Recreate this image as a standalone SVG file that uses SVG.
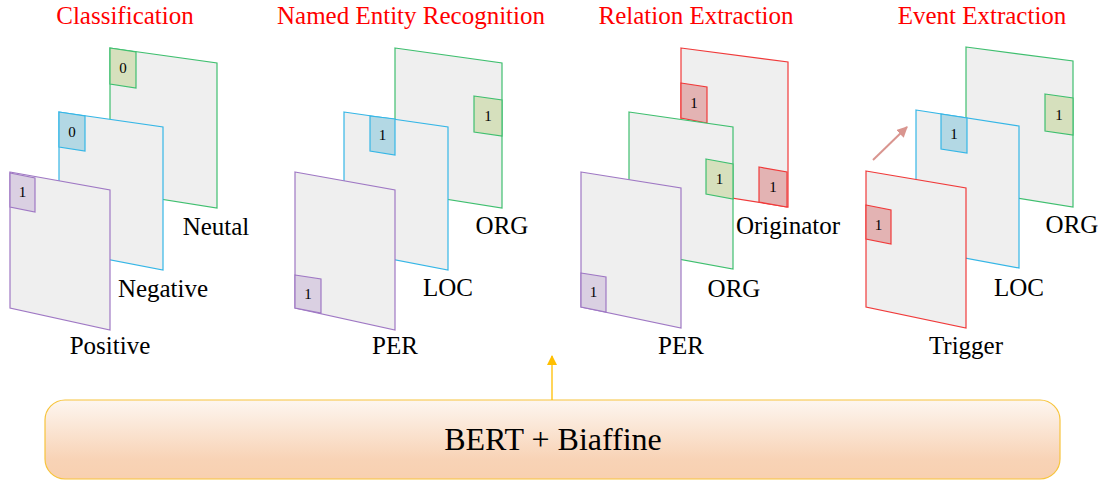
<svg xmlns="http://www.w3.org/2000/svg" width="1105" height="480" viewBox="0 0 1105 480">
<defs>
<linearGradient id="barg" x1="0" y1="0" x2="0" y2="1">
<stop offset="0" stop-color="#fdf6f0"/>
<stop offset="0.75" stop-color="#f8d3b6"/>
<stop offset="1" stop-color="#f8d0b0"/>
</linearGradient>
<marker id="ah-y" viewBox="0 0 10 10" refX="9" refY="5" markerWidth="10" markerHeight="10" markerUnits="userSpaceOnUse" orient="auto">
<path d="M0,0 L10,5 L0,10 Z" fill="#ffbf00"/>
</marker>
<marker id="ah-p" viewBox="0 0 10 10" refX="9" refY="5" markerWidth="11" markerHeight="11" markerUnits="userSpaceOnUse" orient="auto">
<path d="M0,0 L10,5 L0,10 Z" fill="#d9958f"/>
</marker>
</defs>
<style>
.pan{fill:#efefef;stroke-width:1.2}
.g{stroke:#3fbf6f}.b{stroke:#35b6e6}.p{stroke:#9f78c4}.r{stroke:#f03a3a}
.cg{fill:#d6e0bd;stroke:#3fbf6f;stroke-width:1.2}
.cb{fill:#b3d8e4;stroke:#35b6e6;stroke-width:1.2}
.cp{fill:#dad0e2;stroke:#9f78c4;stroke-width:1.2}
.cr{fill:#e3b3b3;stroke:#f03a3a;stroke-width:1.2}
text{font-family:"Liberation Serif","Times New Roman","DejaVu Serif",serif}
.d{font-size:15px;text-anchor:middle;fill:#000}
.lbl{font-size:25px;text-anchor:middle;fill:#000}
.ttl{font-size:25px;text-anchor:middle;fill:#ff0000}
.big{font-size:32px;text-anchor:middle;fill:#000}
</style>

<g id="titles">
<text class="ttl" x="125" y="24">Classification</text>
<text class="ttl" x="411" y="24">Named Entity Recognition</text>
<text class="ttl" x="696" y="24">Relation Extraction</text>
<text class="ttl" x="982" y="24">Event Extraction</text>
</g>

<g id="cls-neutal">
<polygon class="pan g" points="110,48 217,63 217,208 110,191"/>
<polygon class="cg" points="110,48 136,52 136,88 110,84"/>
<text class="d" x="123" y="73">0</text>
<text class="lbl" x="216" y="235">Neutal</text>
</g>
<g id="cls-negative">
<polygon class="pan b" points="59,112 163,127 163,270 59,250"/>
<polygon class="cb" points="59,112 85,116 85,151 59,147"/>
<text class="d" x="72" y="137">0</text>
<text class="lbl" x="163" y="297">Negative</text>
</g>
<g id="cls-positive">
<polygon class="pan p" points="10,172 110,190 110,330 10,308"/>
<polygon class="cp" points="10,173 35,178 35,212 10,207"/>
<text class="d" x="22.5" y="197">1</text>
<text class="lbl" x="110" y="354">Positive</text>
</g>

<g id="ner-org">
<polygon class="pan g" points="395,48 502,63 502,208 395,191"/>
<polygon class="cg" points="474,96 502,100 502,136 474,132"/>
<text class="d" x="488" y="121">1</text>
<text class="lbl" x="502" y="234">ORG</text>
</g>
<g id="ner-loc">
<polygon class="pan b" points="344,112 448,127 448,270 344,250"/>
<polygon class="cb" points="370,116 395,119 395,155 370,151"/>
<text class="d" x="382.5" y="140">1</text>
<text class="lbl" x="448" y="296">LOC</text>
</g>
<g id="ner-per">
<polygon class="pan p" points="295,172 395,190 395,330 295,308"/>
<polygon class="cp" points="295,275 321,279 321,313 295,308"/>
<text class="d" x="308" y="299">1</text>
<text class="lbl" x="395" y="354">PER</text>
</g>

<g id="re-originator">
<polygon class="pan r" points="681,48 788,62 788,207 681,190"/>
<polygon class="cr" points="681,83 707,87 707,123 681,118"/>
<text class="d" x="694" y="108">1</text>
<polygon class="cr" points="759,167 787,172 787,207 759,202"/>
<text class="d" x="773" y="192">1</text>
<text class="lbl" x="788" y="234">Originator</text>
</g>
<g id="re-org">
<polygon class="pan g" points="629,112 733,127 733,269 629,250"/>
<polygon class="cg" points="706,159 733,164 733,199 706,194"/>
<text class="d" x="719.5" y="184">1</text>
<text class="lbl" x="734" y="297">ORG</text>
</g>
<g id="re-per">
<polygon class="pan p" points="581,172 681,188 681,328 581,307"/>
<polygon class="cp" points="581,273 606,277 606,312 581,307"/>
<text class="d" x="593.5" y="297">1</text>
<text class="lbl" x="681" y="354">PER</text>
</g>

<g id="ee-org">
<polygon class="pan g" points="966,47 1073,61 1073,207 966,190"/>
<polygon class="cg" points="1045,94 1073,98 1073,135 1045,131"/>
<text class="d" x="1059" y="120">1</text>
<text class="lbl" x="1072" y="233">ORG</text>
</g>
<g id="ee-loc">
<polygon class="pan b" points="916,110 1019,126 1019,268 916,249"/>
<polygon class="cb" points="941,114 967,118 967,153 941,149"/>
<text class="d" x="954" y="139">1</text>
<text class="lbl" x="1019" y="296">LOC</text>
</g>
<g id="ee-trigger">
<polygon class="pan r" points="866,171 966,188 966,328 866,307"/>
<polygon class="cr" points="866,205 891,210 891,244 866,239"/>
<text class="d" x="878.5" y="230">1</text>
<text class="lbl" x="966" y="354">Trigger</text>
</g>

<g id="bert">
<rect x="45" y="400" width="1015" height="79" rx="20" ry="20" fill="url(#barg)" stroke="#f7c43c" stroke-width="1.2"/>
<text class="big" x="553" y="450">BERT + Biaffine</text>
</g>

<g id="connectors">
<line x1="552" y1="400" x2="552" y2="356" stroke="#ffbf00" stroke-width="1.3" marker-end="url(#ah-y)"/>
<line x1="873" y1="160" x2="907" y2="127" stroke="#d9958f" stroke-width="2" marker-end="url(#ah-p)"/>
</g>
</svg>
